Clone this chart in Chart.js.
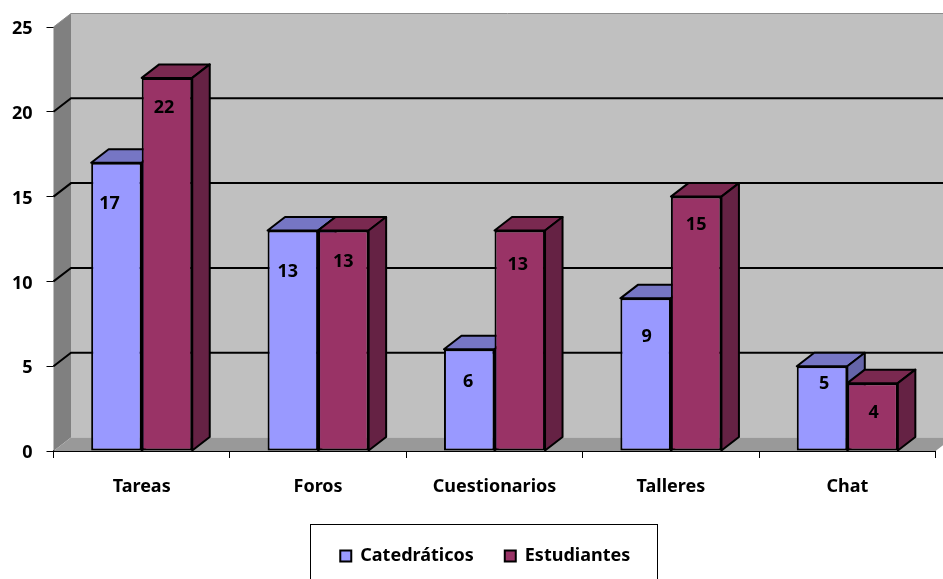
<!DOCTYPE html>
<html>
<head>
<meta charset="utf-8">
<title>Tareas, foros, cuestionarios</title>
<script src="https://cdn.jsdelivr.net/npm/chart.js@4"></script>
<style>
  html, body { margin: 0; padding: 0; background: #fff; overflow: hidden; }
  canvas { display: block; }
</style>
</head>
<body>
<canvas id="myChart" width="943" height="579"></canvas>
<script>
let categorias = ['Tareas', 'Foros', 'Cuestionarios', 'Talleres', 'Chat'];
let catedraticos = [17, 13, 6, 9, 5];
let estudiantes = [22, 13, 13, 15, 4];

// where each value label sits relative to the bar: below its top, off its centre
let bajadaCatedraticos = [41.5, 41.5, 32.5, 38.5, 17.5];
let bajadaEstudiantes = [29.5, 31.5, 34.5, 28.5, 29.5];
let ladoCatedraticos = [-7, -5, -1, 1, 2];
let ladoEstudiantes = [-3, 0, -2, 0, 1];

const fuente = "'Noto Sans', sans-serif";
const fondoX = 17.5;
const fondoY = 13.5;
const paddingLeyenda = 31;

let poligono = function (ctx, puntos, color) {
    ctx.beginPath();
    puntos.forEach((p, i) => i ? ctx.lineTo(p[0], p[1]) : ctx.moveTo(p[0], p[1]));
    ctx.closePath();
    ctx.fillStyle = color;
    ctx.fill();
};

// back wall, side wall, floor and the depth faces of the bars
let pared3d = {
    id: 'pared3d',
    afterLayout(chart) {
        // legend sits lower than chart.js would put it, and off centre
        let legend = chart.legend;
        let h = legend.bottom - legend.top;
        legend.top = 557 - 10 - paddingLeyenda;
        legend.bottom = legend.top + h;
        legend.left += 17.5;
        legend.right += 17.5;
    },
    beforeDraw(chart) {
        let ctx = chart.ctx;
        ctx.save();
        ctx.strokeStyle = '#000';
        ctx.lineWidth = 1;
        ctx.strokeRect(310.5, 524.5, 347, 80);
        ctx.restore();
    },
    beforeDatasetsDraw(chart) {
        let ctx = chart.ctx;
        let y = chart.scales.y;
        let x = chart.scales.x;
        let izq = x.left, der = x.right;
        let abajo = y.getPixelForValue(0), arriba = y.getPixelForValue(25);

        ctx.save();
        ctx.fillStyle = '#c0c0c0';
        ctx.fillRect(izq + fondoX, arriba - fondoY, der, abajo - arriba);
        poligono(ctx, [[izq, arriba], [izq + fondoX, arriba - fondoY], [izq + fondoX, abajo - fondoY], [izq, abajo]], '#808080');
        poligono(ctx, [[izq, abajo], [izq + fondoX, abajo - fondoY], [der + fondoX, abajo - fondoY], [der, abajo]], '#999999');

        ctx.strokeStyle = '#8c8c8c';
        ctx.lineWidth = 1;
        ctx.beginPath();
        ctx.moveTo(izq, arriba);
        ctx.lineTo(izq + fondoX, arriba - fondoY);
        ctx.lineTo(der + fondoX, arriba - fondoY);
        ctx.stroke();

        ctx.strokeStyle = '#000';
        ctx.lineWidth = 2;
        y.ticks.forEach(t => {
            if (t.value === 0 || t.value === 25) return;
            let py = y.getPixelForValue(t.value);
            ctx.beginPath();
            ctx.moveTo(izq, py);
            ctx.lineTo(izq + fondoX, py - fondoY);
            ctx.lineTo(der + fondoX, py - fondoY);
            ctx.stroke();
        });

        let colores = [['#7676c4', '#6565a8'], ['#7a2950', '#652244']];
        chart.data.datasets.forEach((ds, d) => {
            chart.getDatasetMeta(d).data.forEach(bar => {
                let l = bar.x - bar.width / 2, r = bar.x + bar.width / 2;
                let t = bar.y, b = bar.base;
                let tapa = [[l, t], [l + fondoX, t - fondoY], [r + fondoX, t - fondoY], [r, t]];
                let lado = [[r, t], [r + fondoX, t - fondoY], [r + fondoX, b - fondoY], [r, b]];
                poligono(ctx, tapa, colores[d][0]);
                ctx.lineWidth = 2;
                ctx.lineJoin = 'round';
                ctx.stroke();
                poligono(ctx, lado, colores[d][1]);
                ctx.stroke();
            });
        });
        ctx.restore();
    },
    afterDatasetsDraw(chart) {
        let ctx = chart.ctx;
        let bajadas = [bajadaCatedraticos, bajadaEstudiantes];
        let lados = [ladoCatedraticos, ladoEstudiantes];
        ctx.save();
        ctx.font = 'bold 18px ' + fuente;
        ctx.fillStyle = '#000';
        ctx.textAlign = 'center';
        ctx.textBaseline = 'middle';
        chart.data.datasets.forEach((ds, d) => {
            chart.getDatasetMeta(d).data.forEach((bar, i) => {
                ctx.fillText(ds.data[i], bar.x + lados[d][i], bar.y + bajadas[d][i]);
            });
        });
        ctx.restore();
    }
};

Chart.defaults.font.family = fuente;
Chart.defaults.color = '#000';

let chart = new Chart(document.getElementById('myChart').getContext('2d'), {
    type: 'bar',
    data: {
        labels: categorias,
        datasets: [{
            label: 'Catedráticos',
            data: catedraticos,
            backgroundColor: '#9999ff',
            borderColor: '#000',
            borderWidth: 2,
            borderSkipped: false
        }, {
            label: 'Estudiantes',
            data: estudiantes,
            backgroundColor: '#993366',
            borderColor: '#000',
            borderWidth: 2,
            borderSkipped: false
        }]
    },
    options: {
        responsive: false,
        animation: false,
        layout: { padding: { top: 27, right: 7.5, left: 0, bottom: 0 } },
        categoryPercentage: 0.573,
        barPercentage: 1,
        plugins: {
            tooltip: { enabled: false },
            legend: {
                position: 'bottom',
                labels: {
                    boxWidth: 11,
                    boxHeight: 11,
                    padding: paddingLeyenda,
                    font: { size: 18, weight: 'bold' }
                }
            }
        },
        scales: {
            x: {
                offset: true,
                afterFit(scale) { scale.height = 128 - scale.chart.legend.height; },
                grid: { offset: true, drawOnChartArea: false, color: '#000', tickLength: 7, tickWidth: 1 },
                border: { color: '#000', width: 2 },
                ticks: { padding: 18, maxRotation: 0, font: { size: 18, weight: 'bold' } }
            },
            y: {
                min: 0,
                max: 25,
                afterFit(scale) { scale.width = 53.5; },
                grid: { drawOnChartArea: false, color: '#000', tickLength: 7 },
                border: { display: false },
                ticks: { stepSize: 5, padding: 14, labelOffset: 2, font: { size: 18, weight: 'bold' } }
            }
        }
    },
    plugins: [pared3d]
});
</script>
</body>
</html>
